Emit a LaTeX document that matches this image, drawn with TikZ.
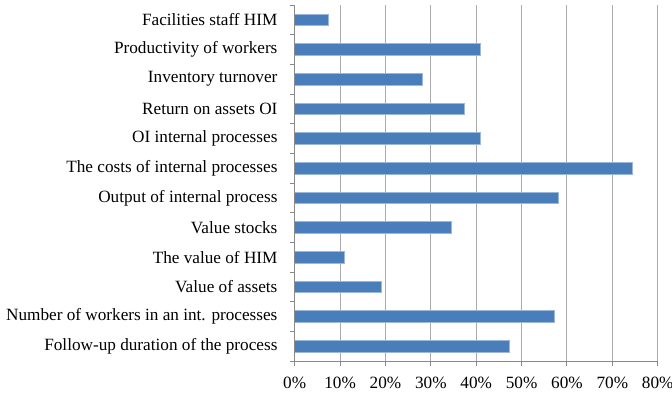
\documentclass[tikz,border=0pt]{standalone}
\usepackage{fontspec}
\setmainfont{Liberation Serif}
\definecolor{barblue}{RGB}{74,126,187}
\definecolor{gridgray}{RGB}{170,170,170}
\definecolor{axisgray}{RGB}{137,137,137}
\tikzset{bar/.style={fill=barblue, draw=barblue!55!white, line width=0.5pt}}
\tikzset{gridline/.style={draw=gridgray, line width=0.75pt}}
\tikzset{axisline/.style={draw=axisgray, line width=0.75pt}}
\tikzset{catlabel/.style={anchor=east, inner sep=0pt, font=\fontsize{12.9}{14}\selectfont}}
\tikzset{ticklabel/.style={inner sep=0pt, font=\fontsize{12.9}{14}\selectfont}}

\begin{document}
\begin{tikzpicture}[x=0.75pt,y=-0.75pt]
		\useasboundingbox (0,0) rectangle (672,393);
		
		% vertical grid
		\foreach \p in {1,...,8}
			\draw[gridline] ({294.7+45.375*\p},5) -- ({294.7+45.375*\p},361);
		
		% categories and bars
		\foreach \lab/\v [count=\i] in {Facilities staff HIM/7.4, Productivity of workers/40.9, Inventory turnover/28.2, Return on assets OI/37.4, OI internal processes/40.9, The costs of internal processes/74.4, Output of internal process/58.1, Value stocks/34.6, The value of HIM/10.9, Value of assets/19.2, Number of workers in an int. processes/57.3, Follow-up duration of the process/47.3}
		{
			\node[catlabel] (lab\i) at (277.7,{5+(\i-0.5)*29.667}) {\lab};
			\path[bar] (294.7,{5+(\i-0.5)*29.667-5.75}) rectangle ({294.7+4.5375*\v},{5+(\i-0.5)*29.667+5.75});
		}
		
		% axes and ticks
		\draw[axisline] (294.7,5) -- (294.7,361) -- (657.7,361);
		\foreach \i in {0,...,12}
			\draw[axisline] (289.7,{5+\i*29.667}) -- (294.7,{5+\i*29.667});
		\foreach \p [evaluate=\p as \pc using int(10*\p)] in {0,...,8}
		{
			\draw[axisline] ({294.7+45.375*\p},361) -- ({294.7+45.375*\p},366);
			\node[ticklabel] (tick\p) at ({294.7+45.375*\p},382.7) {\pc\%};
		}
		
\end{tikzpicture}
\end{document}
